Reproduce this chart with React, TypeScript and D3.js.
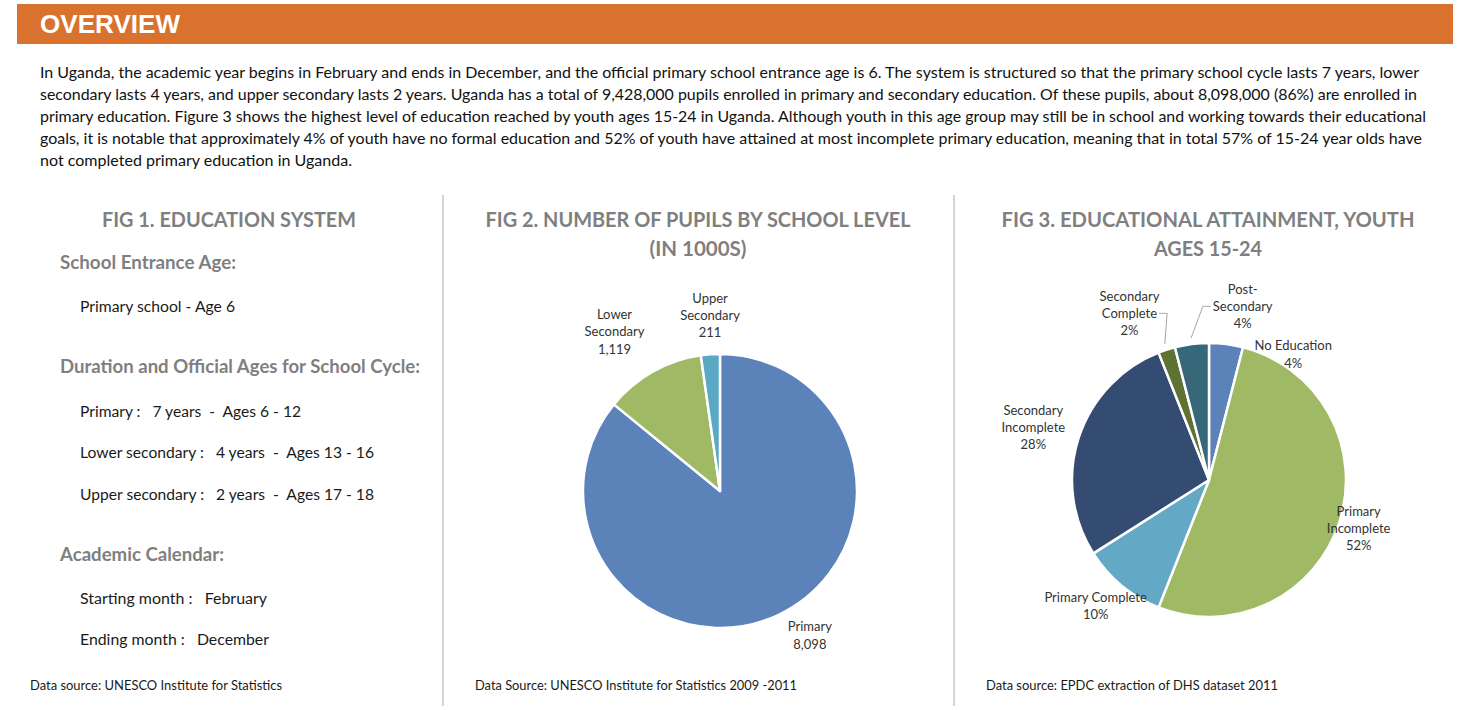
import React, { useEffect, useRef } from "react";
import * as d3 from "d3";

// ---------- DATA ----------
const headerTitle = "OVERVIEW";
const overviewLines = [
  "In Uganda, the academic year begins in February and ends in December, and the official primary school entrance age is 6. The system is structured so that the primary school cycle lasts 7 years, lower",
  "secondary lasts 4 years, and upper secondary lasts 2 years. Uganda has a total of 9,428,000 pupils enrolled in primary and secondary education. Of these pupils, about 8,098,000 (86%) are enrolled in",
  "primary education. Figure 3 shows the highest level of education reached by youth ages 15-24 in Uganda. Although youth in this age group may still be in school and working towards their educational",
  "goals, it is notable that approximately 4% of youth have no formal education and 52% of youth have attained at most incomplete primary education, meaning that in total 57% of 15-24 year olds have",
  "not completed primary education in Uganda.",
];

const fig1Title = "FIG 1. EDUCATION SYSTEM";
const fig1Headings = ["School Entrance Age:", "Duration and Official Ages for School Cycle:", "Academic Calendar:"];
const fig1Entrance = ["Primary school - Age 6"];
const fig1Cycle = [
  "Primary :   7 years  -  Ages 6 - 12",
  "Lower secondary :   4 years  -  Ages 13 - 16",
  "Upper secondary :   2 years  -  Ages 17 - 18",
];
const fig1Calendar = ["Starting month :   February", "Ending month :   December"];
const fig1Source = "Data source: UNESCO Institute for Statistics";

const fig2TitleLines = ["FIG 2. NUMBER OF PUPILS BY SCHOOL LEVEL", "(IN 1000S)"];
const fig2Categories = ["Primary", "Lower Secondary", "Upper Secondary"];
const fig2LabelLines = [["Primary"], ["Lower", "Secondary"], ["Upper", "Secondary"]];
const fig2Values = [8098, 1119, 211];
const fig2Source = "Data Source: UNESCO Institute for Statistics 2009 -2011";

const fig3TitleLines = ["FIG 3. EDUCATIONAL ATTAINMENT, YOUTH", "AGES 15-24"];
const fig3Categories = [
  "No Education",
  "Primary Incomplete",
  "Primary Complete",
  "Secondary Incomplete",
  "Secondary Complete",
  "Post-Secondary",
];
const fig3LabelLines = [
  ["No Education"],
  ["Primary", "Incomplete"],
  ["Primary Complete"],
  ["Secondary", "Incomplete"],
  ["Secondary", "Complete"],
  ["Post-", "Secondary"],
];
const fig3Values = [4, 52, 10, 28, 2, 4];
const fig3Source = "Data source: EPDC extraction of DHS dataset 2011";

// ---------- STYLE / LAYOUT ----------
const W = 1476;
const H = 710;
const BODY_FONT = "Lato, 'Open Sans', sans-serif";
const GRAY = "#7f7f7f";
const TEXT = "#1a1a1a";
const LABEL = "#333333";

const fig2Colors = ["#5b82b9", "#a0b964", "#5ba8c5"];
const fig3Colors = ["#5b82b9", "#a0b964", "#63a9c5", "#344c72", "#5e7234", "#37687a"];

// label nudges relative to the label-arc centroid (layout only)
const fig2Nudge: Record<string, [number, number]> = {
  Primary: [17, -9],
  "Lower Secondary": [-22, -11],
  "Upper Secondary": [2, -6],
};
const fig3Nudge: Record<string, [number, number]> = {
  "No Education": [63, 43],
  "Primary Incomplete": [-12, -4],
  "Primary Complete": [-5, -5],
  "Secondary Incomplete": [-14, 0],
  "Secondary Complete": [-27, -5],
  "Post-Secondary": [55, -5],
};
const fig3Leaders = new Set(["Secondary Complete", "Post-Secondary"]);

type PieSpec = {
  cx: number;
  cy: number;
  r: number;
  labelR: number;
  categories: string[];
  values: number[];
  colors: string[];
  lines: string[][];
  valueText: (v: number) => string;
  nudge: Record<string, [number, number]>;
  leaders?: Set<string>;
};

function drawPie(g: d3.Selection<SVGGElement, unknown, null, undefined>, spec: PieSpec) {
  g.selectAll("*").remove();
  const data = spec.categories.map((c, i) => ({ c, v: spec.values[i], i }));
  const pie = d3
    .pie<{ c: string; v: number; i: number }>()
    .sort(null)
    .value((d) => d.v);
  const arcs = pie(data);
  const arc = d3.arc<d3.PieArcDatum<any>>().innerRadius(0).outerRadius(spec.r);
  const labelArc = d3.arc<d3.PieArcDatum<any>>().innerRadius(spec.labelR).outerRadius(spec.labelR);
  const leaderArc = d3.arc<d3.PieArcDatum<any>>().innerRadius(spec.r + 6).outerRadius(spec.r + 6);

  const root = g.append("g").attr("transform", `translate(${spec.cx},${spec.cy})`);
  root
    .selectAll("path.slice")
    .data(arcs)
    .join("path")
    .attr("class", "slice")
    .attr("d", (d) => arc(d) as string)
    .attr("fill", (d) => spec.colors[d.data.i])
    .attr("stroke", "#ffffff")
    .attr("stroke-width", 2.5)
    .attr("stroke-linejoin", "round");

  const fs = 13;
  const lh = 17.3;
  arcs.forEach((d) => {
    const [bx, by] = labelArc.centroid(d);
    const nd = spec.nudge[d.data.c] || [0, 0];
    const lx = bx + nd[0];
    const ly = by + nd[1];
    const lines = [...spec.lines[d.data.i], spec.valueText(d.data.v)];
    const n = lines.length;
    const t = root
      .append("text")
      .attr("font-family", BODY_FONT)
      .attr("font-size", fs)
      .attr("fill", LABEL)
      .attr("text-anchor", "middle");
    const tspans: SVGTSpanElement[] = [];
    lines.forEach((ln, k) => {
      const ts = t
        .append("tspan")
        .attr("x", lx)
        .attr("y", ly - ((n - 1) / 2) * lh + k * lh + fs * 0.35)
        .text(ln);
      tspans.push(ts.node() as SVGTSpanElement);
    });
    if (spec.leaders && spec.leaders.has(d.data.c)) {
      const [sx, sy] = leaderArc.centroid(d);
      const midIdx = Math.floor((n - 1) / 2);
      const w = tspans[midIdx].getComputedTextLength();
      const my = ly - ((n - 1) / 2) * lh + midIdx * lh;
      const left = lx > sx;
      const ex = left ? lx - w / 2 - 2 : lx + w / 2 + 2;
      const elx = left ? ex - 8 : ex + 8;
      root
        .append("path")
        .attr("d", `M${sx},${sy}L${elx},${my}L${ex},${my}`)
        .attr("fill", "none")
        .attr("stroke", "#a6a6a6")
        .attr("stroke-width", 1);
    }
  });
}

export default function App() {
  const fig2Ref = useRef<SVGGElement>(null);
  const fig3Ref = useRef<SVGGElement>(null);

  useEffect(() => {
    if (fig2Ref.current) {
      drawPie(d3.select(fig2Ref.current), {
        cx: 720,
        cy: 491,
        r: 137,
        labelR: 170,
        categories: fig2Categories,
        values: fig2Values,
        colors: fig2Colors,
        lines: fig2LabelLines,
        valueText: (v) => d3.format(",")(v),
        nudge: fig2Nudge,
      });
    }
    if (fig3Ref.current) {
      drawPie(d3.select(fig3Ref.current), {
        cx: 1209,
        cy: 480,
        r: 137,
        labelR: 170,
        categories: fig3Categories,
        values: fig3Values,
        colors: fig3Colors,
        lines: fig3LabelLines,
        valueText: (v) => `${v}%`,
        nudge: fig3Nudge,
        leaders: fig3Leaders,
      });
    }
  }, []);

  const paraBase = [78.3, 100.3, 122.3, 144.3, 166.3];
  const paraLen = [1379, 1377, 1386, 1382, 312];

  const titleStyle = {
    fontFamily: BODY_FONT,
    fontWeight: 700,
    fontSize: 21,
    fill: GRAY,
  } as const;
  const headStyle = { fontFamily: BODY_FONT, fontWeight: 700, fontSize: 18.5, fill: GRAY } as const;
  const itemStyle = { fontFamily: BODY_FONT, fontSize: 15.5, fill: TEXT, whiteSpace: "pre" } as const;
  const srcStyle = { fontFamily: BODY_FONT, fontSize: 13, fill: TEXT } as const;

  return (
    <svg
      width={W}
      height={H}
      viewBox={`0 0 ${W} ${H}`}
      style={{ position: "absolute", left: 0, top: 0, display: "block", background: "#fff" }}
    >
      <rect x={0} y={0} width={W} height={H} fill="#ffffff" />
      {/* header */}
      <rect x={17} y={4} width={1436} height={40} fill="#d9722e" />
      <text
        x={40}
        y={33}
        fontFamily="'Liberation Sans', Arial, sans-serif"
        fontWeight={700}
        fontSize={26}
        fill="#ffffff"
        textLength={140}
        lengthAdjust="spacingAndGlyphs"
      >
        {headerTitle}
      </text>

      {/* paragraph */}
      {overviewLines.map((ln, i) => (
        <text
          key={i}
          x={40}
          y={paraBase[i]}
          fontFamily={BODY_FONT}
          fontSize={15}
          fill="#111"
          textLength={paraLen[i]}
          lengthAdjust="spacingAndGlyphs"
        >
          {ln}
        </text>
      ))}

      {/* separators */}
      <line x1={443} x2={443} y1={195} y2={706} stroke="#d4d4d4" strokeWidth={2} />
      <line x1={954} x2={954} y1={195} y2={706} stroke="#d4d4d4" strokeWidth={2} />

      {/* FIG 1 */}
      <text x={229} y={227} textAnchor="middle" style={titleStyle} textLength={254} lengthAdjust="spacingAndGlyphs">
        {fig1Title}
      </text>
      <text x={60} y={269} style={headStyle} textLength={176} lengthAdjust="spacingAndGlyphs">
        {fig1Headings[0]}
      </text>
      <text x={80} y={312} style={itemStyle} xmlSpace="preserve" textLength={155} lengthAdjust="spacingAndGlyphs">
        {fig1Entrance[0]}
      </text>
      <text x={60} y={373} style={headStyle} textLength={360} lengthAdjust="spacingAndGlyphs">
        {fig1Headings[1]}
      </text>
      {fig1Cycle.map((ln, i) => (
        <text
          key={i}
          x={80}
          y={[416.5, 457.5, 499.5][i]}
          style={itemStyle}
          xmlSpace="preserve"
          textLength={[221, 294, 294][i]}
          lengthAdjust="spacingAndGlyphs"
        >
          {ln}
        </text>
      ))}
      <text x={60} y={560.5} style={headStyle} textLength={164} lengthAdjust="spacingAndGlyphs">
        {fig1Headings[2]}
      </text>
      {fig1Calendar.map((ln, i) => (
        <text
          key={i}
          x={80}
          y={[603.5, 645][i]}
          style={itemStyle}
          xmlSpace="preserve"
          textLength={[187, 189][i]}
          lengthAdjust="spacingAndGlyphs"
        >
          {ln}
        </text>
      ))}
      <text x={30} y={690} style={srcStyle} textLength={252} lengthAdjust="spacingAndGlyphs">
        {fig1Source}
      </text>

      {/* FIG 2 */}
      <text x={698} y={227} textAnchor="middle" style={titleStyle} textLength={425} lengthAdjust="spacingAndGlyphs">
        {fig2TitleLines[0]}
      </text>
      <text x={698} y={256} textAnchor="middle" style={titleStyle} textLength={97} lengthAdjust="spacingAndGlyphs">
        {fig2TitleLines[1]}
      </text>
      <g ref={fig2Ref} />
      <text x={475} y={690} style={srcStyle} textLength={322} lengthAdjust="spacingAndGlyphs">
        {fig2Source}
      </text>

      {/* FIG 3 */}
      <text x={1208} y={227} textAnchor="middle" style={titleStyle} textLength={413} lengthAdjust="spacingAndGlyphs">
        {fig3TitleLines[0]}
      </text>
      <text x={1208} y={256} textAnchor="middle" style={titleStyle} textLength={108} lengthAdjust="spacingAndGlyphs">
        {fig3TitleLines[1]}
      </text>
      <g ref={fig3Ref} />
      <text x={986} y={690} style={srcStyle} textLength={292} lengthAdjust="spacingAndGlyphs">
        {fig3Source}
      </text>
    </svg>
  );
}
